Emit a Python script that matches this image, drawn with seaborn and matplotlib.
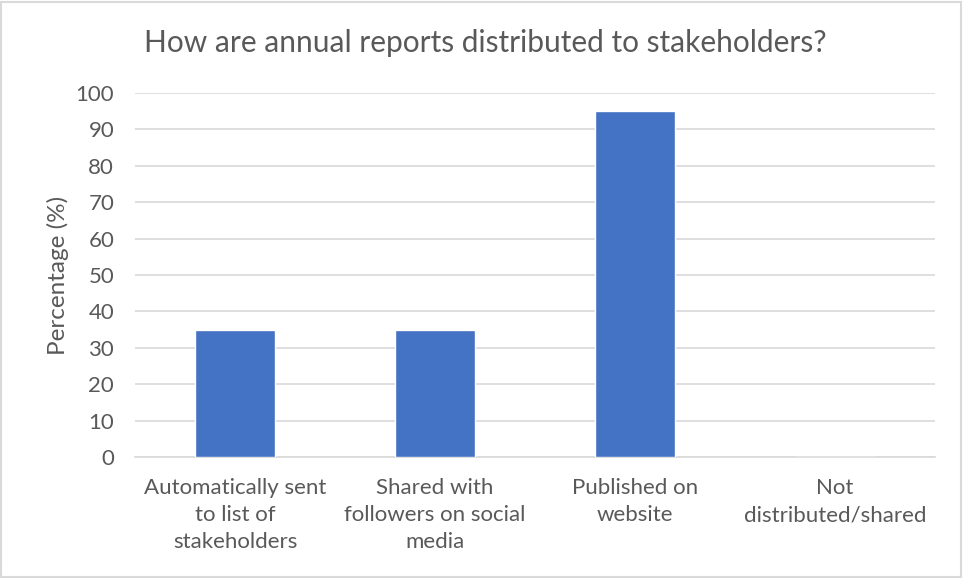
import matplotlib
matplotlib.use("Agg")
import matplotlib.pyplot as plt
import seaborn as sns
import pandas as pd
from matplotlib.patches import Rectangle

categories = [
    "Automatically sent\nto list of\nstakeholders",
    "Shared with\nfollowers on social\nmedia",
    "Published on\nwebsite",
    "Not\ndistributed/shared",
]
percentages = [35, 35, 95, 0]
y_ticks = list(range(0, 101, 10))

title = "How are annual reports distributed to stakeholders?"
y_label = "Percentage (%)"

text_color = "#595959"
bar_color = "#4472C4"
grid_color = "#D9D9D9"

sns.set_theme(style="white")
plt.rcParams["font.family"] = ["Lato", "DejaVu Sans"]

df = pd.DataFrame({"category": categories, "percentage": percentages})

fig = plt.figure(figsize=(9.63, 5.78), dpi=100)
ax = fig.add_axes([0.1402, 0.2093, 0.8307, 0.6298])

sns.barplot(data=df, x="category", y="percentage", color=bar_color,
            saturation=1, width=0.4, ax=ax, zorder=3)

ax.set_ylim(0, 100)
ax.set_yticks(y_ticks)
ax.set_yticklabels([str(t) for t in y_ticks], color=text_color, fontsize=16)
ax.tick_params(axis="x", colors=text_color, labelsize=16, length=0, pad=15)
ax.tick_params(axis="y", length=0, pad=15)
for lbl in ax.get_xticklabels():
    lbl.set_linespacing(1.45)
ax.set_xlabel("")
ax.set_ylabel(y_label, color=text_color, fontsize=17.5)
ax.yaxis.set_label_coords(-0.083, 0.5)

ax.yaxis.grid(True, color=grid_color, linewidth=1.2, zorder=0)
ax.xaxis.grid(False)
for side in ["top", "right", "left"]:
    ax.spines[side].set_visible(False)
ax.spines["bottom"].set_color(grid_color)
ax.spines["bottom"].set_linewidth(1.2)

fig.text(0.504, 0.925, title, ha="center", va="center",
         color=text_color, fontsize=21.5)

fig.patches.append(Rectangle((0.001, 0.002), 0.997, 0.995, transform=fig.transFigure,
                             fill=False, edgecolor=grid_color, linewidth=1.5))

fig.savefig("out.png", dpi=100, facecolor="white")
